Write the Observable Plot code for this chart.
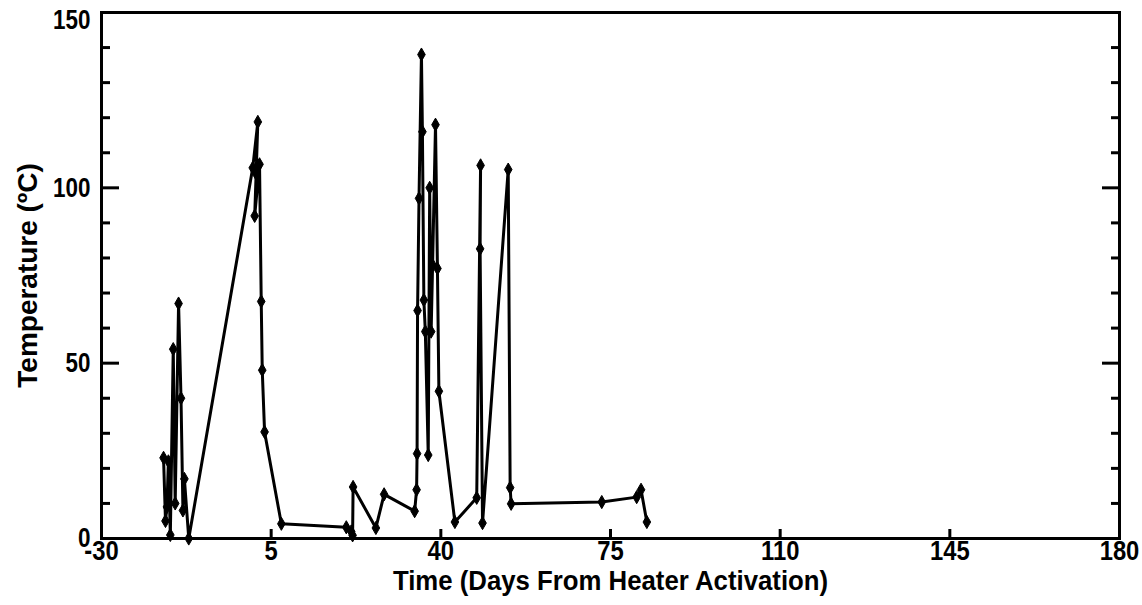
<!DOCTYPE html>
<html>
<head>
<meta charset="utf-8">
<script src="https://cdn.jsdelivr.net/npm/d3@7"></script>
<script src="https://cdn.jsdelivr.net/npm/@observablehq/plot@0.6"></script>
<style>
  html, body { margin: 0; padding: 0; background: #fff; }
  #chart { width: 1142px; height: 605px; }
</style>
</head>
<body>
<div id="chart"></div>
<script>
// Time (days from heater activation)
const days = [
  -17.2, -16.8, -16.5, -16.2, -15.8, -15.2, -14.8, -14.1, -13.6, -13.2, -12.9, -12.0,
  1.2, 2.25, 1.9, 1.6, 2.6, 2.95, 3.16, 3.64, 7.1,
  20.5, 21.5, 21.8, 21.9, 26.6, 28.3, 34.6, 35.0, 35.1,
  35.2, 35.5, 36.0, 36.2, 36.5, 36.8, 37.4, 37.7, 38.0, 38.3, 38.9, 39.3, 39.6,
  42.9, 47.4, 48.2, 48.1, 48.6, 53.9, 54.3, 54.5, 73.2, 80.4, 81.3, 82.5
];
// Temperature (°C)
const temps = [
  23, 5, 9, 22, 1, 54, 10, 67, 40, 8, 17, 0,
  105.7, 118.8, 104, 92, 106.7, 67.6, 48, 30.4, 4.2,
  3.2, 2, 0.9, 14.7, 3, 12.6, 7.8, 13.9, 24.2,
  65, 97, 138, 116, 68, 59, 23.8, 100, 59, 78, 118, 77, 42,
  4.7, 11.6, 106.4, 82.6, 4.4, 105.2, 14.5, 9.9, 10.4, 11.8, 13.9, 4.7
];
const xTicks = [-30, 5, 40, 75, 110, 145, 180];
const yMajor = [0, 50, 100, 150];
const yMinor = [10, 20, 30, 40, 60, 70, 80, 90, 110, 120, 130, 140];
const xTitle = "Time (Days From Heater Activation)";
const yTitle = "Temperature (\u00BAC)";

const data = days.map((d, i) => ({day: d, temp: temps[i]}));
const font = "'Liberation Sans', Arial, sans-serif";
const textStyle = {fontSize: 28, fontWeight: "bold", fontFamily: font, fill: "black"};

const chart = Plot.plot({
  width: 1142,
  height: 605,
  marginLeft: 101,
  marginRight: 23,
  marginTop: 12,
  marginBottom: 67,
  style: {background: "white", color: "black"},
  x: {domain: [-30, 180], axis: null},
  y: {domain: [0, 150], axis: null},
  marks: [
    Plot.line(data, {x: "day", y: "temp", stroke: "black", strokeWidth: 3, strokeLinejoin: "round"}),
    Plot.dot(data, {x: "day", y: "temp", symbol: "diamond", r: 4, fill: "black", stroke: "black", strokeWidth: 1}),
    Plot.frame({stroke: "black", strokeWidth: 3}),
    Plot.axisY(yMinor, {anchor: "left", tickSize: 9, dx: 9, fill: "none", label: null, strokeWidth: 3}),
    Plot.axisY(yMajor, {anchor: "left", tickSize: 18, dx: 18, fill: "none", label: null, strokeWidth: 3}),
    Plot.axisY(yMinor, {anchor: "right", tickSize: 9, dx: -9, fill: "none", label: null, strokeWidth: 3}),
    Plot.axisY(yMajor, {anchor: "right", tickSize: 18, dx: -18, fill: "none", label: null, strokeWidth: 3}),
    Plot.axisX(xTicks, {anchor: "bottom", tickSize: 9, dy: -9, fill: "none", label: null, strokeWidth: 3}),
    Plot.axisY(yMajor.slice(0, 3), {anchor: "left", tickSize: 0, tickPadding: 11, label: null, tickFormat: d => String(d), ...textStyle}),
    Plot.axisY(yMajor.slice(3), {anchor: "left", tickSize: 0, tickPadding: 11, dy: 8, label: null, tickFormat: d => String(d), ...textStyle}),
    Plot.axisX(xTicks, {anchor: "bottom", tickSize: 0, tickPadding: 2, label: null, tickFormat: d => String(d), ...textStyle}),
    Plot.text([xTitle], {frameAnchor: "bottom", dy: 43, text: d => d, lineAnchor: "middle", textAnchor: "middle", ...textStyle}),
    Plot.text([yTitle], {frameAnchor: "left", dx: -73, rotate: -90, text: d => d, lineAnchor: "middle", textAnchor: "middle", ...textStyle})
  ]
});
document.getElementById("chart").appendChild(chart);

// Condense glyphs to mimic the narrow bold face of the original
function condense(selector, factor) {
  chart.querySelectorAll(selector).forEach(el => {
    const w = el.getComputedTextLength();
    if (w > 0) {
      el.setAttribute("textLength", (w * factor).toFixed(1));
      el.setAttribute("lengthAdjust", "spacingAndGlyphs");
    }
  });
}
condense('g[aria-label="y-axis tick label"] text', 0.8);
condense('g[aria-label="x-axis tick label"] text', 0.85);
const titles = chart.querySelectorAll('g[aria-label="text"] text');
if (titles[0]) condense('g[aria-label="text"]:nth-last-of-type(2) text', 0.92);
</script>
</body>
</html>
